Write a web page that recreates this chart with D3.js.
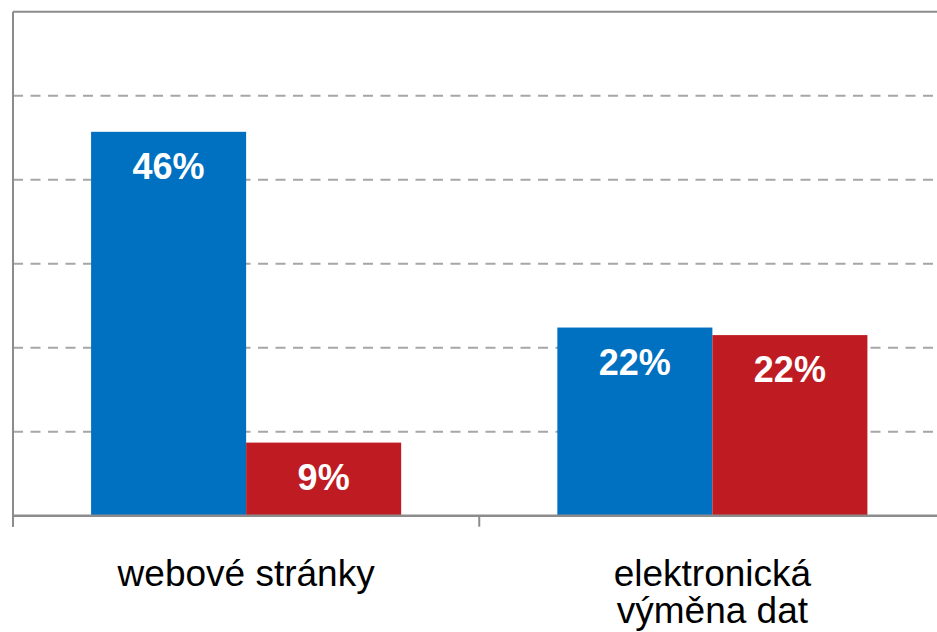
<!DOCTYPE html>
<html>
<head>
<meta charset="utf-8">
<script src="https://cdn.jsdelivr.net/npm/d3@7"></script>
<style>
  html, body { margin: 0; padding: 0; background: #fff; overflow: hidden; }
  svg { display: block; font-family: "Liberation Sans", Arial, sans-serif; }
</style>
</head>
<body>
<svg id="chart" width="937" height="632"></svg>
<script>
// ---- data ----
const categories = ["webové stránky", "elektronická\nvýměna dat"];
const seriesNames = ["s1", "s2"];
const seriesA = [45.7, 22.4];   // blue
const seriesB = [8.7, 21.5];    // red
const valueLabels = [["46%", "9%"], ["22%", "22%"]];
const yTicks = [10, 20, 30, 40, 50];
const yMax = 60;

const colors = { s1: "#0070C0", s2: "#BE1B22" };

const svg = d3.select("#chart");
const plotLeft = 13, plotRight = 945.5, plotTop = 11.7, plotBottom = 515.7;

const y = d3.scaleLinear().domain([0, yMax]).range([plotBottom, plotTop]);
const x0 = d3.scaleBand().domain(categories).range([plotLeft, plotRight])
  .paddingInner(0.335).paddingOuter(0.1675);
const x1 = d3.scaleBand().domain(seriesNames).range([0, x0.bandwidth()]).padding(0);

// gridlines (dashed)
svg.append("g").selectAll("line").data(yTicks).join("line")
  .attr("x1", plotLeft).attr("x2", plotRight)
  .attr("y1", d => y(d)).attr("y2", d => y(d))
  .attr("stroke", "#A6A6A6").attr("stroke-width", 2)
  .attr("stroke-dasharray", "10,7.5");

// top solid line
svg.append("line")
  .attr("x1", plotLeft).attr("x2", plotRight)
  .attr("y1", y(yMax)).attr("y2", y(yMax))
  .attr("stroke", "#8C8C8C").attr("stroke-width", 2);

// bars
const data = categories.map((c, i) => ({
  cat: c,
  vals: [
    { s: "s1", v: seriesA[i], label: valueLabels[i][0] },
    { s: "s2", v: seriesB[i], label: valueLabels[i][1] }
  ]
}));

const groups = svg.append("g").selectAll("g").data(data).join("g")
  .attr("transform", d => `translate(${x0(d.cat)},0)`);

groups.selectAll("rect").data(d => d.vals).join("rect")
  .attr("x", d => x1(d.s))
  .attr("width", x1.bandwidth())
  .attr("y", d => y(d.v))
  .attr("height", d => y(0) - y(d.v))
  .attr("fill", d => colors[d.s]);

groups.selectAll("text").data(d => d.vals).join("text")
  .attr("x", d => x1(d.s) + x1.bandwidth() / 2)
  .attr("y", d => y(d.v) + 47)
  .attr("text-anchor", "middle")
  .attr("fill", "#fff")
  .attr("font-weight", "bold")
  .attr("font-size", "36px")
  .text(d => d.label);

// left axis
svg.append("line")
  .attr("x1", plotLeft).attr("x2", plotLeft)
  .attr("y1", plotTop).attr("y2", plotBottom + 11)
  .attr("stroke", "#8C8C8C").attr("stroke-width", 2);

// bottom axis
svg.append("line")
  .attr("x1", plotLeft).attr("x2", plotRight)
  .attr("y1", plotBottom).attr("y2", plotBottom)
  .attr("stroke", "#8C8C8C").attr("stroke-width", 2.5);

const gapHalf = (x0.step() - x0.bandwidth()) / 2;
const boundaries = categories.map(c => x0(c) - gapHalf)
  .concat([x0(categories[categories.length - 1]) + x0.bandwidth() + gapHalf]);
svg.append("g").selectAll("line").data(boundaries).join("line")
  .attr("x1", d => d).attr("x2", d => d)
  .attr("y1", plotBottom).attr("y2", plotBottom + 11)
  .attr("stroke", "#8C8C8C").attr("stroke-width", 2);

// category labels
const catText = svg.append("g").selectAll("text").data(categories).join("text")
  .attr("x", d => x0(d) + x0.bandwidth() / 2)
  .attr("y", 586)
  .attr("text-anchor", "middle")
  .attr("font-size", "37px")
  .attr("fill", "#000");
catText.each(function(d) {
  const t = d3.select(this);
  const cx = x0(d) + x0.bandwidth() / 2;
  d.split("\n").forEach((line, i) => {
    t.append("tspan").attr("x", cx).attr("dy", i === 0 ? 0 : 37).text(line);
  });
});
</script>
</body>
</html>
